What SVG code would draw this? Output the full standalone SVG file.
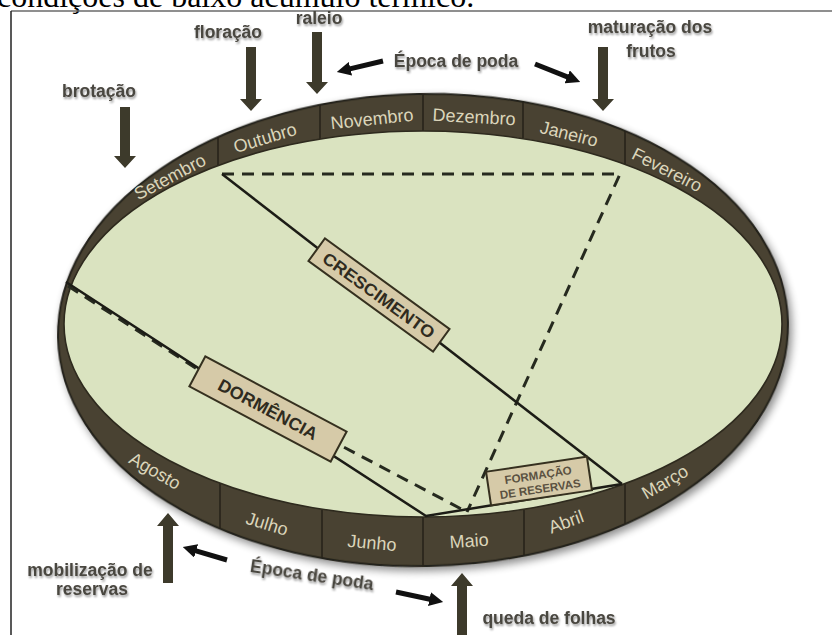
<svg xmlns="http://www.w3.org/2000/svg" width="832" height="635" viewBox="0 0 832 635">
<defs>
<style>
.band{fill:#4a4331;stroke:#24211a;stroke-width:2}
.face{fill:#dae3c0;stroke:#2e2a1e;stroke-width:1.6}
.div{stroke:#27231a;stroke-width:1.6}
.month{font-family:"Liberation Sans",Arial,sans-serif;font-size:18px;fill:#dbd5ba;text-anchor:middle}
.lbl{font-family:"Liberation Sans",Arial,sans-serif;font-weight:bold;font-size:17.5px;fill:#4a4740;text-anchor:middle;filter:url(#ts)}
.solid{stroke:#1c1c16;stroke-width:2.5;fill:none}
.dash{stroke:#262a1f;stroke-width:3;stroke-dasharray:12 8;fill:none}
.box{fill:#d6caa8;stroke:#35301f;stroke-width:2}
.boxt{font-family:"Liberation Sans",Arial,sans-serif;font-weight:bold;fill:#2f2b20;text-anchor:middle}
.fat{fill:#3d3a2b}
.blk{stroke:#111;stroke-width:5;fill:none;marker-end:url(#ah)}
</style>
<filter id="sh" x="-10%" y="-10%" width="120%" height="125%">
<feGaussianBlur in="SourceAlpha" stdDeviation="4"/>
<feOffset dx="3" dy="4" result="b"/>
<feComponentTransfer><feFuncA type="linear" slope="0.45"/></feComponentTransfer>
<feMerge><feMergeNode/><feMergeNode in="SourceGraphic"/></feMerge>
</filter>
<filter id="ts" x="-10%" y="-30%" width="120%" height="160%">
<feGaussianBlur in="SourceAlpha" stdDeviation="1.3"/>
<feOffset dx="1" dy="1.5"/>
<feComponentTransfer><feFuncA type="linear" slope="0.4"/></feComponentTransfer>
<feMerge><feMergeNode/><feMergeNode in="SourceGraphic"/></feMerge>
</filter>
<clipPath id="oc"><ellipse cx="423" cy="330" rx="365" ry="236" transform="rotate(-1.2 423 330)"/></clipPath>
<marker id="ah" viewBox="0 0 10 10" refX="2" refY="5" markerWidth="2.8" markerHeight="2.8" orient="auto"><path d="M0,0 L10,5 L0,10 z" fill="#111"/></marker>
</defs>
<rect width="832" height="635" fill="#fff"/>
<text x="-3" y="7" font-family="Liberation Serif,'Times New Roman',serif" font-size="32" fill="#000">condições de baixo acúmulo térmico.</text>
<line x1="11" y1="11" x2="832" y2="11" stroke="#6a6a6a" stroke-width="1.5"/>
<line x1="11" y1="11" x2="11" y2="635" stroke="#222" stroke-width="1.5"/>

<g id="ring">
<ellipse class="band" cx="423" cy="330" rx="365" ry="236" transform="rotate(-1.2 423 330)" filter="url(#sh)"/>
<g clip-path="url(#oc)">
<line class="div" x1="218" y1="80" x2="218" y2="200"/>
<line class="div" x1="320" y1="80" x2="320" y2="200"/>
<line class="div" x1="423" y1="80" x2="423" y2="200"/>
<line class="div" x1="523" y1="80" x2="523" y2="200"/>
<line class="div" x1="625" y1="80" x2="625" y2="200"/>
<line class="div" x1="220" y1="440" x2="220" y2="590"/>
<line class="div" x1="322" y1="440" x2="322" y2="590"/>
<line class="div" x1="423" y1="440" x2="423" y2="590"/>
<line class="div" x1="524" y1="440" x2="524" y2="590"/>
<line class="div" x1="625" y1="440" x2="625" y2="590"/>
</g>
<ellipse class="face" cx="423" cy="324" rx="359" ry="193"/>
</g>

<g id="months">
<text class="month" transform="translate(170,177) rotate(-28)" y="6">Setembro</text>
<text class="month" transform="translate(265,138) rotate(-17)" y="6">Outubro</text>
<text class="month" transform="translate(372,119) rotate(-6)" y="6">Novembro</text>
<text class="month" transform="translate(474,117) rotate(3)" y="6">Dezembro</text>
<text class="month" transform="translate(569,134) rotate(14)" y="6">Janeiro</text>
<text class="month" transform="translate(667,170) rotate(27)" y="6">Fevereiro</text>
<text class="month" transform="translate(665,482) rotate(-30)" y="6">Março</text>
<text class="month" transform="translate(566,522) rotate(-20)" y="6">Abril</text>
<text class="month" transform="translate(469,541) rotate(-4)" y="6">Maio</text>
<text class="month" transform="translate(372,543) rotate(5)" y="6">Junho</text>
<text class="month" transform="translate(267,524) rotate(17)" y="6">Julho</text>
<text class="month" transform="translate(155,471) rotate(30)" y="6">Agosto</text>
</g>

<g id="connectors">
<path class="dash" d="M222,174 H620 L467,512"/>
<path class="dash" d="M68,286 L205,374 L467,512"/>
<path class="solid" d="M222,174 L622,484"/>
<path class="solid" d="M66,282 L426,516 L622,484"/>
<path class="blk" d="M383,61 L347.7,69.4"/>
<path class="blk" d="M535,64 L569.8,77.9"/>
<path class="blk" d="M227,560 L193.5,550.1"/>
<path class="blk" d="M396,592 L432.2,599.7"/>
</g>

<g id="crescimento" transform="translate(379,295) rotate(36)">
<rect class="box" x="-77" y="-14" width="154" height="28"/>
<text class="boxt" y="6.5" font-size="17" textLength="134" lengthAdjust="spacingAndGlyphs">CRESCIMENTO</text>
</g>
<g id="dormencia" transform="translate(268,409) rotate(28)">
<rect class="box" x="-80" y="-17" width="160" height="34"/>
<text class="boxt" y="6.5" font-size="17.5" textLength="110" lengthAdjust="spacingAndGlyphs">DORMÊNCIA</text>
</g>
<g id="formacao" transform="translate(539,481) rotate(-8.5)">
<rect class="box" x="-51" y="-17" width="102" height="34"/>
<text class="boxt" y="-2" font-size="11.5" style="fill:#5a5141">FORMAÇÃO</text>
<text class="boxt" y="12" font-size="11.5" style="fill:#5a5141">DE RESERVAS</text>
</g>

<g id="epoca-top"><text class="lbl" x="456" y="67">Época de poda</text></g>
<g id="epoca-bottom"><text class="lbl" transform="translate(311,581) rotate(8.5)">Época de poda</text></g>

<g id="brotacao">
<text class="lbl" x="99" y="97">brotação</text>
<polygon class="fat" points="120,107 130,107 130,156 136,156 125,168 114,156 120,156"/>
</g>
<g id="floracao">
<text class="lbl" x="228" y="38">floração</text>
<polygon class="fat" points="246,47 256,47 256,99 262,99 251,111 240,99 246,99"/>
</g>
<g id="raleio">
<text class="lbl" x="319" y="24">raleio</text>
<polygon class="fat" points="312,32 322,32 322,82 328,82 317,94 306,82 312,82"/>
</g>
<g id="maturacao">
<text class="lbl" x="650" y="33">maturação dos</text>
<text class="lbl" x="651" y="57">frutos</text>
<polygon class="fat" points="598,47 608,47 608,99 614,99 603,111 592,99 598,99"/>
</g>
<g id="mobilizacao">
<text class="lbl" x="90" y="576">mobilização de</text>
<text class="lbl" x="92" y="595">reservas</text>
<polygon class="fat" points="163,583 173,583 173,526 179,526 168,513 157,526 163,526"/>
</g>
<g id="queda">
<text class="lbl" x="549" y="624">queda de folhas</text>
<polygon class="fat" points="457,640 467,640 467,586 473,586 462,573 451,586 457,586"/>
</g>
</svg>
